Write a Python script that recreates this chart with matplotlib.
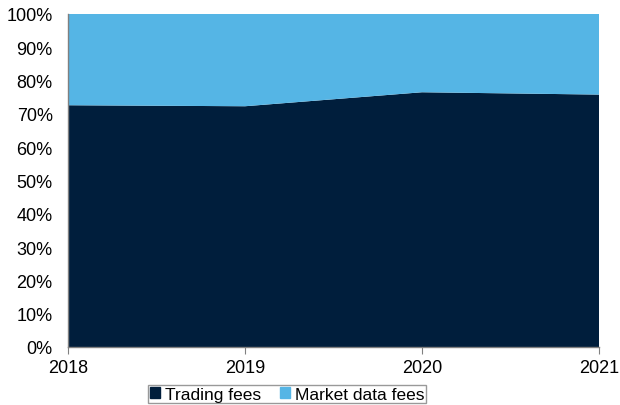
import numpy as np
import matplotlib.pyplot as plt
from matplotlib.patches import Patch
from matplotlib.ticker import FuncFormatter

plt.rcParams['font.family'] = ['Liberation Sans', 'DejaVu Sans']

years = [2018, 2019, 2020, 2021]
trading_fees = [72.6, 72.3, 76.5, 75.8]
market_data_fees = [100 - v for v in trading_fees]

navy = '#001E3C'
sky = '#55B5E5'

fig = plt.figure(figsize=(6.2, 4.06), dpi=100)
ax = fig.add_axes([68 / 620, 1 - 348 / 406, (599 - 68) / 620, (348 - 15) / 406])

ax.stackplot(years, trading_fees, market_data_fees, colors=[navy, sky], linewidth=0)

ax.set_xlim(2018, 2021)
ax.set_ylim(0, 100)
ax.set_xticks(years)
ax.set_yticks(np.arange(0, 101, 10))
ax.yaxis.set_major_formatter(FuncFormatter(lambda v, p: f'{v:.0f}%'))
ax.tick_params(axis='y', length=0, pad=11, labelsize=13)
ax.tick_params(axis='x', length=5, color='#808080', pad=4, labelsize=13)
for s in ['top', 'right']:
    ax.spines[s].set_visible(False)
for s in ['left', 'bottom']:
    ax.spines[s].set_color('#808080')
    ax.spines[s].set_linewidth(1)

handles = [Patch(color=navy, label='Trading fees'), Patch(color=sky, label='Market data fees')]
leg = fig.legend(handles=handles, loc='upper center', bbox_to_anchor=(287 / 620, 1 - 386 / 406),
                 ncol=2, frameon=True, fancybox=False, fontsize=12.5,
                 handlelength=0.6, handleheight=0.6, handletextpad=0.25,
                 columnspacing=1.1, borderpad=0.1, borderaxespad=0)
leg.get_frame().set_edgecolor('#808080')
leg.get_frame().set_linewidth(1)

fig.savefig('out.png', dpi=100)
